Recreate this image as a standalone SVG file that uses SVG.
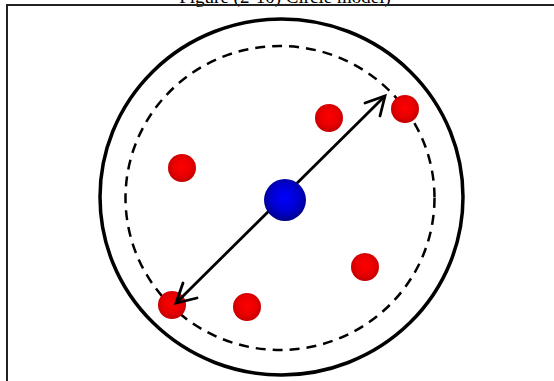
<svg xmlns="http://www.w3.org/2000/svg" width="554" height="381" viewBox="0 0 554 381">
<style>
.frame{fill:none;stroke:#222;stroke-width:2}
.outer{fill:none;stroke:#000;stroke-width:3.5}
.dash{fill:none;stroke:#000;stroke-width:2.5;stroke-dasharray:10 7}
.red{fill:url(#rg)}
.blue{fill:url(#bg)}
.arrow{fill:none;stroke:#000;stroke-width:2.8;stroke-linecap:round;stroke-linejoin:miter}
.title{font-family:"Liberation Serif",serif;font-size:19px;fill:#000}
</style>
<defs>
<radialGradient id="rg" cx="50%" cy="45%" r="55%">
<stop offset="0" stop-color="#ff0000"/>
<stop offset="0.6" stop-color="#e80000"/>
<stop offset="1" stop-color="#c40000"/>
</radialGradient>
<radialGradient id="bg" cx="50%" cy="45%" r="55%">
<stop offset="0" stop-color="#0000ff"/>
<stop offset="0.6" stop-color="#0000d0"/>
<stop offset="1" stop-color="#00008a"/>
</radialGradient>
</defs>
<text class="title" x="285" y="3" text-anchor="middle">Figure (2-10) Circle model)</text>
<path class="frame" d="M7,381 V5 H554"/>
<g id="outer-circle"><ellipse class="outer" cx="281.5" cy="197" rx="181.5" ry="178"/></g>
<g id="dashed-circle"><ellipse class="dash" cx="280" cy="198" rx="154.5" ry="152"/></g>
<g id="p1"><circle class="red" cx="329" cy="118" r="14"/></g>
<g id="p2"><circle class="red" cx="405" cy="109" r="14"/></g>
<g id="p3"><circle class="red" cx="182" cy="168" r="14"/></g>
<g id="p4"><circle class="red" cx="365" cy="267" r="14"/></g>
<g id="p5"><circle class="red" cx="247" cy="307" r="14"/></g>
<g id="p6"><circle class="red" cx="172" cy="305" r="14"/></g>
<g id="connectors">
<line class="arrow" x1="177" y1="302" x2="384" y2="97"/>
<path class="arrow" d="M365,103 L385,96 L380,116"/>
<path class="arrow" d="M183,283 L176,303 L197,298"/>
</g>
<g id="center"><circle class="blue" cx="285" cy="200" r="21"/></g>
</svg>
